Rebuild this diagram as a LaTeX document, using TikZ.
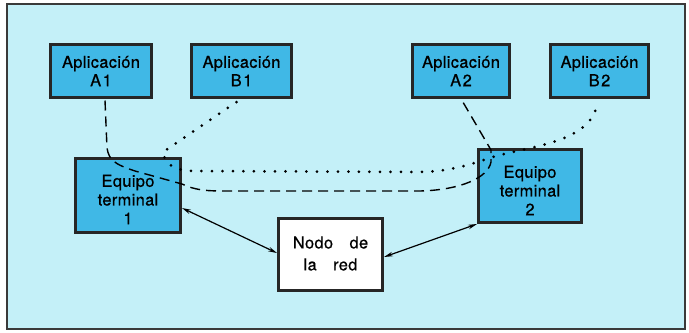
\documentclass[tikz,border=0pt]{standalone}
\usepackage{fontspec}
\newfontfamily\lbl[LetterSpace=2,FakeBold=0.6]{TeX Gyre Heros}
\usetikzlibrary{arrows.meta,calc}
\definecolor{bgc}{HTML}{C4F0F8}
\definecolor{boxc}{HTML}{40B8E6}
\definecolor{frm}{HTML}{3A3A3A}
\begin{document}
\begin{tikzpicture}[x=1bp,y=-1bp,
  blk/.style={draw=black!85, line width=3bp, fill=boxc, align=center, inner sep=0pt,
    font=\lbl\fontsize{16.5}{18.5}\selectfont},
  txt/.style={align=center, inner sep=0pt, font=\lbl\fontsize{16.5}{18.8}\selectfont},
  dashline/.style={line width=1.4bp, dash pattern=on 10bp off 6bp},
  dotline/.style={line width=3bp, line cap=round, dash pattern=on 0bp off 10.5bp},
  link/.style={line width=1.2bp, {Stealth[length=9bp,width=4.5bp]}-{Stealth[length=9bp,width=4.5bp]}}]
\useasboundingbox (0,0) rectangle (689,332);
\fill[white] (0,0) rectangle (689,332);
\draw[frm, line width=2bp, fill=bgc] (7,4) rectangle (685,329);

\node[blk, minimum width=101bp, minimum height=53bp] (A1) at (101,71) {Aplicación\\A\kern1.5bp 1};
\node[blk, minimum width=100bp, minimum height=53bp] (B1) at (241.5,71) {Aplicación\\B\kern1.5bp 1};
\node[blk, minimum width=97bp, minimum height=53bp] (A2) at (461,71) {Aplicación\\A\kern1.5bp 2};
\node[blk, minimum width=98bp, minimum height=53bp] (B2) at (599.5,71) {Aplicación\\B\kern1.5bp 2};
\node[blk, minimum width=105bp, minimum height=74bp] (ET1) at (128,195.5) {};
\node[txt] (ET1t) at ($(ET1)+(0,4)$) {Equipo\\terminal\\1};
\node[blk, minimum width=103bp, minimum height=73bp] (ET2) at (530,186) {};
\node[txt] (ET2t) at ($(ET2)+(0,4.5)$) {Equipo\\terminal\\2};
\node[blk, fill=white, minimum width=104bp, minimum height=72bp] (N) at (330.5,254.5) {};
\node[txt, font=\lbl\fontsize{16.5}{22}\selectfont] (Nt) at ($(N)+(0,-1)$) {Nodo\quad de\\la\quad red};

\draw[dashline] ($(A1.south)+(4,1.5)$) -- (107,148) .. controls (109,160) and (114,164) .. (135,171)
  -- (182,184) .. controls (195,190) and (205,191) .. (225,191) -- (420,191)
  .. controls (460,190) and (488,178) .. (491,162) -- (491,150) -- ($(A2.south)+(1,1.5)$);
\draw[dotline] ($(B1.south)+(-5,3)$) -- (163,152) .. controls (165,165) and (175,171) .. (195,171)
  -- (420,172) .. controls (460,171) and (480,160) .. (500,155)
  .. controls (540,145) and (592,140) .. ($(B2.south)+(-2,3)$);

\draw[link] ($(ET1.east)+(0,12.5)$) -- ($(N.west)+(0,-1.5)$);
\draw[link] (ET2.south west) -- ($(N.east)+(0,2.5)$);
\end{tikzpicture}
\end{document}
